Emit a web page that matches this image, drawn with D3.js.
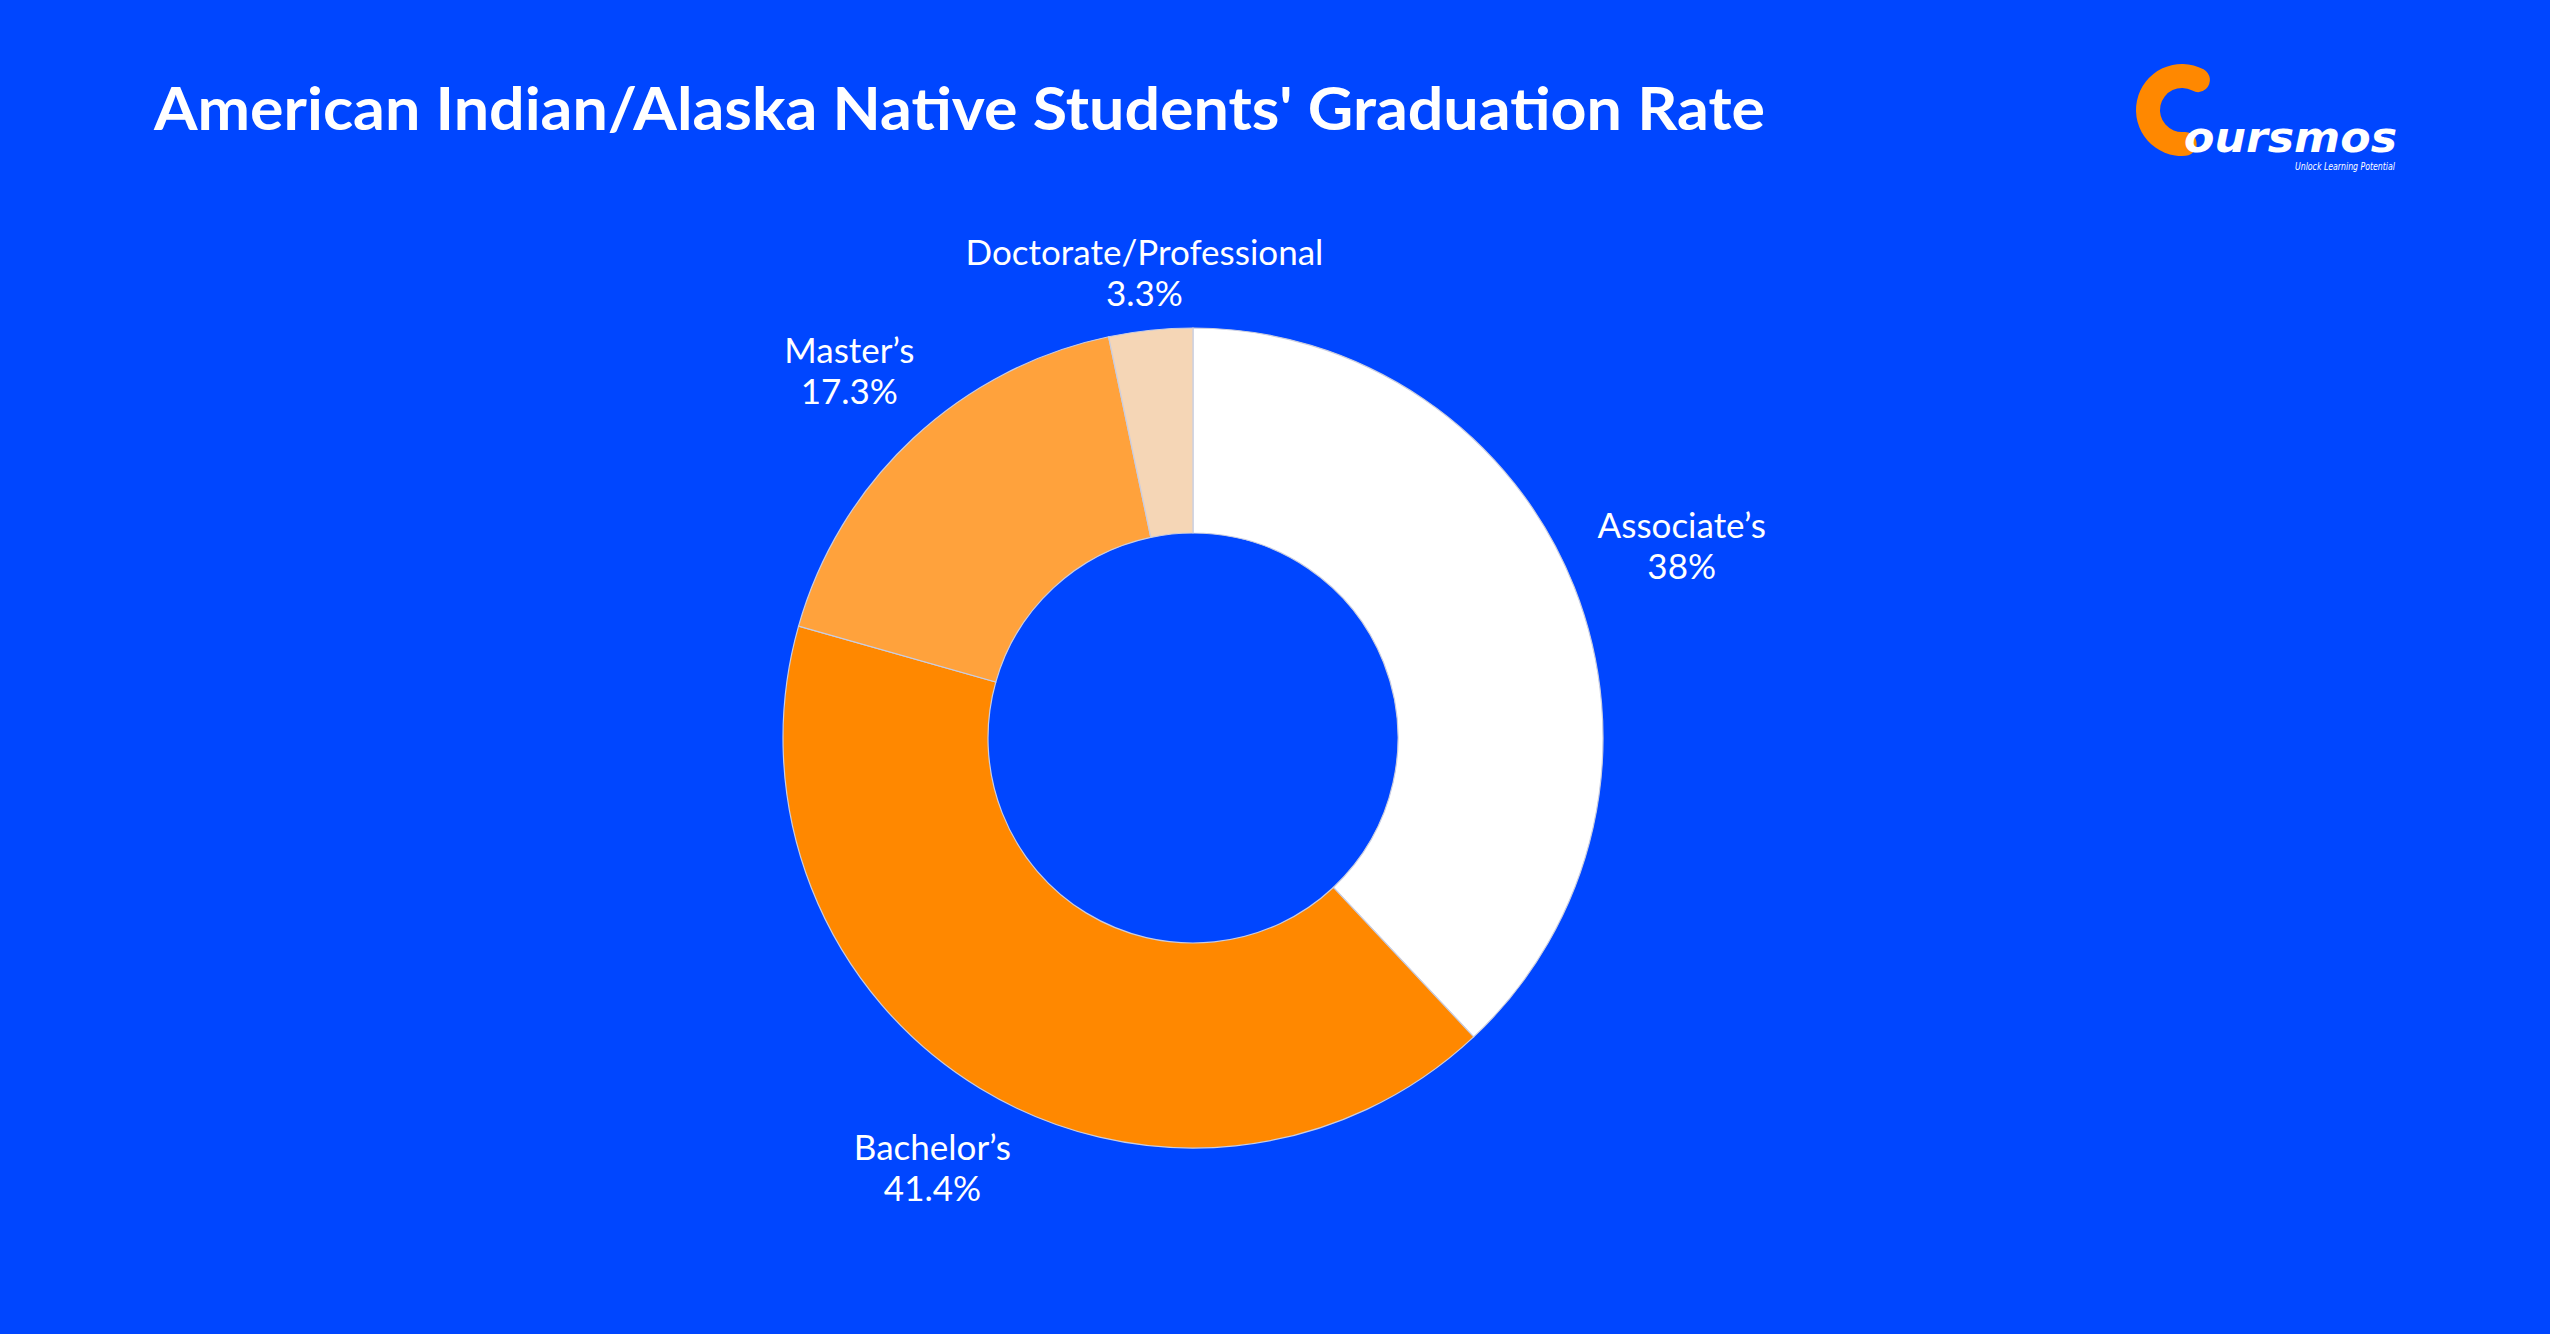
<!DOCTYPE html>
<html><head><meta charset="utf-8">
<script src="https://cdn.jsdelivr.net/npm/d3@7"></script>
<style>html,body{margin:0;padding:0;background:#0046FF;overflow:hidden}</style>
</head><body>
<svg id="chart" width="2550" height="1334"></svg>
<script>
const categories = ["Associate’s", "Bachelor’s", "Master’s", "Doctorate/Professional"];
const values = [38, 41.4, 17.3, 3.3];
const valueLabels = ["38%", "41.4%", "17.3%", "3.3%"];
const colors = ["#FFFFFF", "#FF8800", "#FFA23C", "#F5D6B6"];
const title = "American Indian/Alaska Native Students' Graduation Rate";

const W = 2550, H = 1334;
const svg = d3.select("#chart");
svg.append("rect").attr("width", W).attr("height", H).attr("fill", "#0046FF");

// title
svg.append("text").attr("x", 154).attr("y", 130)
  .attr("font-family", "Lato, 'Noto Sans', sans-serif").attr("font-weight", 700)
  .attr("font-size", 60).attr("fill", "#fff")
  .attr("textLength", 1611).attr("lengthAdjust", "spacingAndGlyphs")
  .text(title);

// donut
const cx = 1193, cy = 738, rOut = 410, rIn = 205;
const data = categories.map((c, i) => ({cat: c, value: values[i], label: valueLabels[i], color: colors[i]}));
const pie = d3.pie().value(d => d.value).sort(null);
const arc = d3.arc().innerRadius(rIn).outerRadius(rOut);
const g = svg.append("g").attr("transform", `translate(${cx},${cy})`);
const arcs = pie(data);
g.selectAll("path").data(arcs).join("path")
  .attr("d", arc).attr("fill", d => d.data.color)
  .attr("stroke", "#c9cde0").attr("stroke-width", 1.2);

// labels
const fs = 35, lineH = 41, gap = 45, topBound = 230;
const lab = svg.append("g").attr("font-family", "Lato, 'Noto Sans', sans-serif")
  .attr("font-size", fs).attr("fill", "#fff").attr("text-anchor", "middle");
arcs.forEach(d => {
  const a = (d.startAngle + d.endAngle) / 2;
  const t = lab.append("text");
  t.append("tspan").attr("x", 0).attr("y", 0).text(d.data.cat);
  t.append("tspan").attr("x", 0).attr("y", lineH).text(d.data.label);
  const bb = t.node().getBBox();
  const w = bb.width, h = bb.height;
  const s = Math.sin(a), c = Math.cos(a);
  const half = 1 / Math.sqrt((s / (w / 2)) ** 2 + (c / (h / 2)) ** 2);
  const r = rOut + gap + half;
  let px = cx + s * r, py = cy - c * r;
  if (py - h / 2 < topBound) {
    py = topBound + h / 2;
    px = cx + Math.tan(a) * (py - cy) * -1;
  }
  const dx = px - (bb.x + w / 2), dy = py - (bb.y + h / 2);
  t.attr("transform", `translate(${dx},${dy})`);
});

// logo
const logo = svg.append("g");
const cArc = d3.arc().innerRadius(22).outerRadius(46)
  .startAngle(Math.PI * 0.86).endAngle(Math.PI * 2.27).cornerRadius(12);
logo.append("path").attr("d", cArc).attr("transform", "translate(2182,110)").attr("fill", "#FF8800");
logo.append("text").attr("x", 2184).attr("y", 152)
  .attr("font-family", "'DejaVu Sans', sans-serif").attr("font-weight", 700).attr("font-style", "italic")
  .attr("font-size", 42).attr("fill", "#fff")
  .attr("textLength", 213).attr("lengthAdjust", "spacingAndGlyphs").text("oursmos");
logo.append("text").attr("x", 2295).attr("y", 170)
  .attr("font-family", "'DejaVu Sans', sans-serif").attr("font-style", "italic")
  .attr("font-size", 10).attr("fill", "#fff")
  .attr("textLength", 100).attr("lengthAdjust", "spacingAndGlyphs").text("Unlock Learning Potential");
</script>
</body></html>
